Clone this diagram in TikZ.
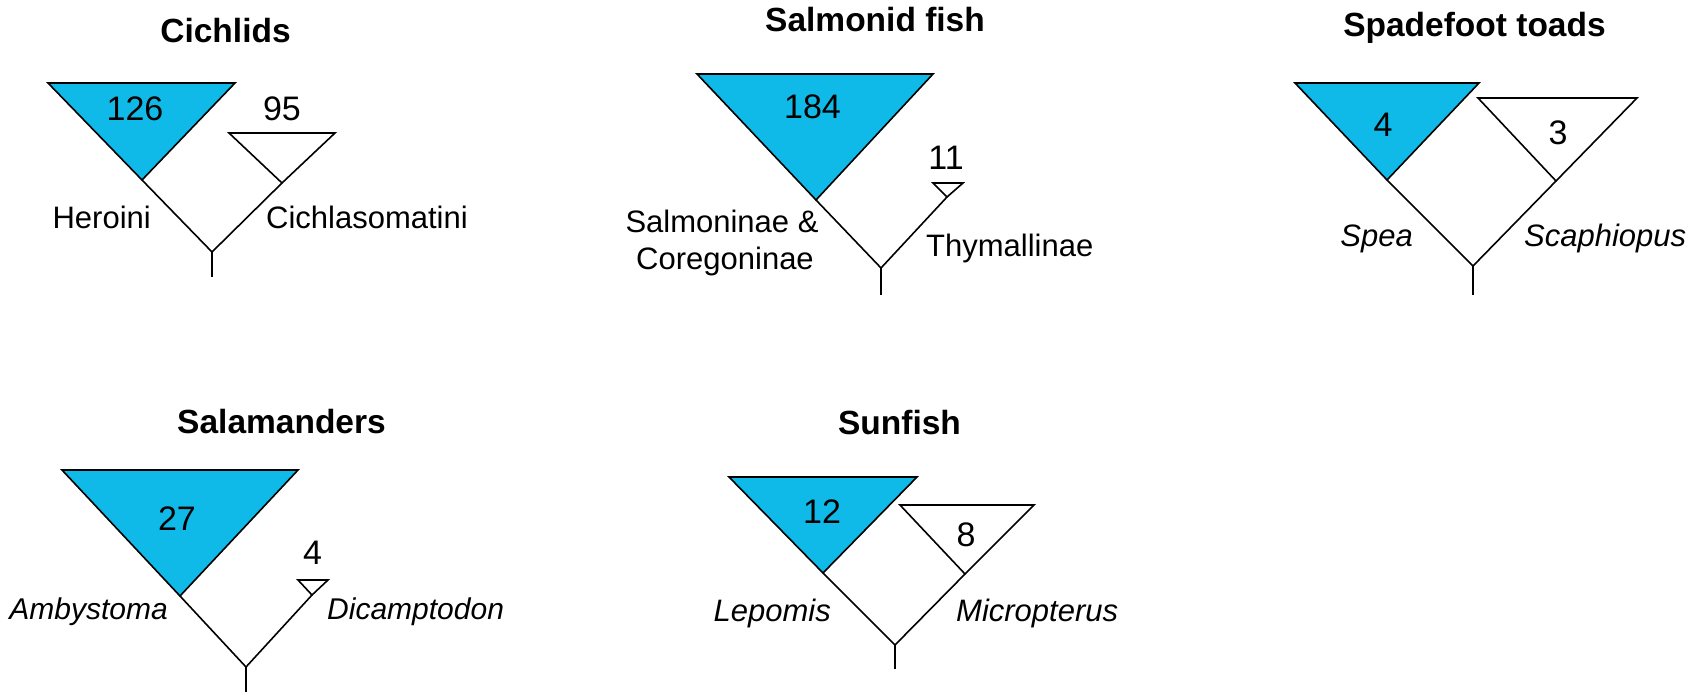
\documentclass[tikz,border=0pt]{standalone}
\usepackage{fontspec}
\setmainfont{Liberation Sans}
\definecolor{clade}{RGB}{16,186,232}
\begin{document}
\begin{tikzpicture}[x=1pt,y=-1pt,
  branch/.style={line width=1.6pt},
  bluetri/.style={fill=clade, draw=black, line width=1.6pt, line join=miter},
  whitetri/.style={fill=white, draw=black, line width=1.6pt, line join=miter},
  ttl/.style={font=\fontsize{33.5}{40}\selectfont\bfseries, inner sep=0pt, anchor=base},
  lbl/.style={font=\fontsize{31}{36}\selectfont, inner sep=0pt},
  ilbl/.style={font=\fontsize{31}{36}\selectfont\itshape, inner sep=0pt},
  num/.style={font=\fontsize{34}{38}\selectfont, inner sep=0pt, anchor=base},
]
\useasboundingbox (0,0) rectangle (1699,692);

% ---------- Cichlids ----------
\coordinate (c-btl) at (48,83);
\coordinate (c-btr) at (235,83);
\coordinate (c-bap) at (142,180);
\coordinate (c-wtl) at (229,133);
\coordinate (c-wtr) at (335,133);
\coordinate (c-wap) at (282,183);
\coordinate (c-root) at (212,252);
\coordinate (c-stem) at (212,277);
\draw[bluetri] (c-btl) -- (c-btr) -- (c-bap) -- cycle;
\draw[whitetri] (c-wtl) -- (c-wtr) -- (c-wap) -- cycle;
\draw[branch] (c-bap) -- (c-root) -- (c-wap);
\draw[branch] (c-root) -- (c-stem);
\node[ttl] (c-title) at (225.5,43) {Cichlids};
\node[num] (c-n1) at (135,121) {126};
\node[num] (c-n2) at (282,121) {95};
\node[lbl, anchor=base east] (c-l1) at (151,229) {Heroini};
\node[lbl, anchor=base west] (c-l2) at (266,229) {Cichlasomatini};

% ---------- Salmonid fish ----------
\coordinate (s-btl) at (697,74);
\coordinate (s-btr) at (933,74);
\coordinate (s-bap) at (816,200);
\coordinate (s-wtl) at (933,183);
\coordinate (s-wtr) at (963,183);
\coordinate (s-wap) at (947,197);
\coordinate (s-root) at (881,268);
\coordinate (s-stem) at (881,295);
\draw[bluetri] (s-btl) -- (s-btr) -- (s-bap) -- cycle;
\draw[whitetri] (s-wtl) -- (s-wtr) -- (s-wap) -- cycle;
\draw[branch] (s-bap) -- (s-root) -- (s-wap);
\draw[branch] (s-root) -- (s-stem);
\node[ttl] (s-title) at (875,32) {Salmonid fish};
\node[num] (s-n1) at (812.5,119) {184};
\node[num] (s-n2) at (946,170) {11};
\node[lbl, anchor=base] (s-l1a) at (722,233) {Salmoninae \&};
\node[lbl, anchor=base] (s-l1b) at (725,270) {Coregoninae};
\node[lbl, anchor=base west] (s-l2) at (926,257) {Thymallinae};

% ---------- Spadefoot toads ----------
\coordinate (t-btl) at (1295,83);
\coordinate (t-btr) at (1479,83);
\coordinate (t-bap) at (1387,180);
\coordinate (t-wtl) at (1478,98);
\coordinate (t-wtr) at (1637,98);
\coordinate (t-wap) at (1556,181);
\coordinate (t-root) at (1473,266);
\coordinate (t-stem) at (1473,295);
\draw[bluetri] (t-btl) -- (t-btr) -- (t-bap) -- cycle;
\draw[whitetri] (t-wtl) -- (t-wtr) -- (t-wap) -- cycle;
\draw[branch] (t-bap) -- (t-root) -- (t-wap);
\draw[branch] (t-root) -- (t-stem);
\node[ttl] (t-title) at (1474.5,37) {Spadefoot toads};
\node[num] (t-n1) at (1383,137) {4};
\node[num] (t-n2) at (1558,145) {3};
\node[ilbl, anchor=base east] (t-l1) at (1413,247) {Spea};
\node[ilbl, anchor=base west] (t-l2) at (1524,247) {Scaphiopus};

% ---------- Salamanders ----------
\coordinate (a-btl) at (62,470);
\coordinate (a-btr) at (298,470);
\coordinate (a-bap) at (180,596);
\coordinate (a-wtl) at (298,580);
\coordinate (a-wtr) at (328,580);
\coordinate (a-wap) at (312,595);
\coordinate (a-root) at (246,667);
\coordinate (a-stem) at (246,692);
\draw[bluetri] (a-btl) -- (a-btr) -- (a-bap) -- cycle;
\draw[whitetri] (a-wtl) -- (a-wtr) -- (a-wap) -- cycle;
\draw[branch] (a-bap) -- (a-root) -- (a-wap);
\draw[branch] (a-root) -- (a-stem);
\node[ttl] (a-title) at (281.5,433) {Salamanders};
\node[num] (a-n1) at (177,530) {27};
\node[num] (a-n2) at (312.5,564) {4};
\node[ilbl, anchor=base east, font=\fontsize{30}{36}\selectfont\itshape] (a-l1) at (168,619) {Ambystoma};
\node[ilbl, anchor=base west, font=\fontsize{30}{36}\selectfont\itshape] (a-l2) at (327,619) {Dicamptodon};

% ---------- Sunfish ----------
\coordinate (f-btl) at (729,477);
\coordinate (f-btr) at (917,477);
\coordinate (f-bap) at (823,573);
\coordinate (f-wtl) at (900,505);
\coordinate (f-wtr) at (1034,505);
\coordinate (f-wap) at (965,574);
\coordinate (f-root) at (895,645);
\coordinate (f-stem) at (895,669);
\draw[bluetri] (f-btl) -- (f-btr) -- (f-bap) -- cycle;
\draw[whitetri] (f-wtl) -- (f-wtr) -- (f-wap) -- cycle;
\draw[branch] (f-bap) -- (f-root) -- (f-wap);
\draw[branch] (f-root) -- (f-stem);
\node[ttl] (f-title) at (899.5,434) {Sunfish};
\node[num] (f-n1) at (822,523) {12};
\node[num] (f-n2) at (966,546) {8};
\node[ilbl, anchor=base east] (f-l1) at (831,621) {Lepomis};
\node[ilbl, anchor=base west] (f-l2) at (956,621) {Micropterus};
\end{tikzpicture}
\end{document}
